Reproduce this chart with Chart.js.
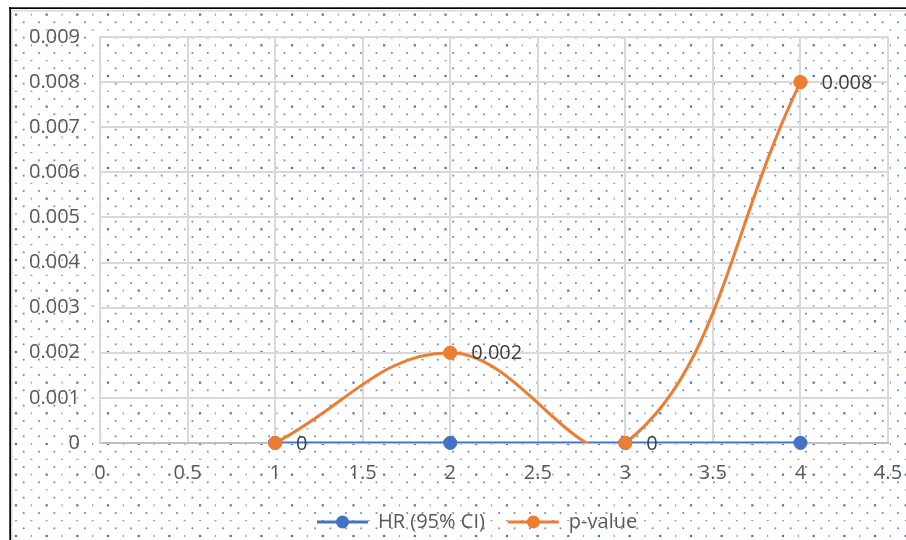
<!DOCTYPE html>
<html>
<head>
<meta charset="utf-8">
<script src="https://cdn.jsdelivr.net/npm/chart.js@4/dist/chart.umd.min.js"></script>
<style>
  html, body { margin: 0; padding: 0; background: #fff; }
  canvas { display: block; }
</style>
</head>
<body>
<canvas id="c" width="906" height="540"></canvas>
<script>
// Series data
const xValues = [1, 2, 3, 4];
const hrValues = [0, 0, 0, 0];
const pValues = [0, 0.002, 0, 0.008];
const seriesNames = ['HR (95% CI)', 'p-value'];
const seriesColors = ['#4472C4', '#ED7D31'];

const toPoints = vals => xValues.map((x, i) => ({ x, y: vals[i] }));

Chart.defaults.font.family = "'Open Sans', 'DejaVu Sans', sans-serif";

// Dotted fill behind the whole chart plus the outer frame
const dotBackground = {
  id: 'dotBackground',
  beforeDraw(chart) {
    const ctx = chart.ctx;
    const W = chart.width, H = chart.height;
    ctx.save();
    ctx.fillStyle = '#fff';
    ctx.fillRect(0, 0, W, H);
    const rowGap = 7.667, colGap = 15.34;
    for (let k = 0; ; k++) {
      const y = 6.97 + rowGap * k;
      if (y > H) break;
      if (y < 10) continue;
      const x0 = k % 2 ? 16 : 23.67;
      for (let m = 0; ; m++) {
        const x = x0 + colGap * m;
        if (x > W) break;
        if (x < 12) continue;
        let w, h, a;
        if (k % 4 === 1) {
          if (m % 2 === 0) { w = 2.2; h = 2.2; a = 1; } else { w = 1.2; h = 2; a = 0.7; }
        } else if (k % 4 === 3) { w = 2; h = 1.2; a = 0.7; }
        else { w = 1.8; h = 1.8; a = 0.8; }
        ctx.fillStyle = 'rgba(68,114,196,' + a + ')';
        ctx.fillRect(x - w / 2, y - h / 2, w, h);
      }
    }
    ctx.fillStyle = '#d9d9d9';
    ctx.fillRect(11, 10, W - 11, 1.5);
    ctx.fillRect(11, 10, 1.5, H - 10);
    ctx.fillStyle = '#000';
    ctx.fillRect(9, 7.3, W - 9, 1.7);
    ctx.fillRect(9.3, 7.3, 1.7, H - 7.3);
    ctx.restore();
  }
};

// Markers redrawn unclipped (the lines stay clipped to the plot area),
// then value labels to the right of each p-value point
const markersAndLabels = {
  id: 'markersAndLabels',
  afterDatasetsDraw(chart) {
    const ctx = chart.ctx;
    [0, 1].forEach(di => {
      chart.getDatasetMeta(di).data.forEach(el => el.draw(ctx));
    });
    const meta = chart.getDatasetMeta(1);
    ctx.save();
    ctx.font = "20px 'Open Sans'";
    ctx.fillStyle = '#404040';
    ctx.textAlign = 'left';
    ctx.textBaseline = 'middle';
    meta.data.forEach((pt, i) => {
      ctx.fillText(String(pValues[i]), pt.x + 21, pt.y + 1);
    });
    ctx.restore();
  }
};

// Legend: line-with-marker symbols, legend row starts at a fixed x
const legendMarkers = {
  id: 'legendMarkers',
  afterLayout(chart) {
    const lg = chart.legend;
    const pad = lg.options.labels.padding;
    const w = lg.right - lg.left;
    lg.left = 317 - pad;
    lg.right = lg.left + w;
  },
  afterDraw(chart) {
    const lg = chart.legend;
    const ctx = chart.ctx;
    const bw = lg.options.labels.boxWidth;
    ctx.save();
    lg.legendHitBoxes.forEach((hb, i) => {
      const item = lg.legendItems[i];
      ctx.fillStyle = seriesColors[item.datasetIndex];
      ctx.beginPath();
      ctx.arc(hb.left + bw / 2, hb.top + hb.height / 2, 6.5, 0, Math.PI * 2);
      ctx.fill();
    });
    ctx.restore();
  }
};

const makeDataset = (idx, vals, order) => ({
  label: seriesNames[idx],
  data: toPoints(vals),
  showLine: true,
  borderColor: seriesColors[idx],
  backgroundColor: seriesColors[idx],
  pointBackgroundColor: seriesColors[idx],
  pointBorderColor: seriesColors[idx],
  borderWidth: 3,
  pointRadius: 6.5,
  pointBorderWidth: 1,
  tension: 0.4,
  clip: { left: 10, top: 10, right: 10, bottom: 0 },
  order: order
});

new Chart(document.getElementById('c'), {
  type: 'scatter',
  data: {
    datasets: [
      makeDataset(0, hrValues, 1),
      makeDataset(1, pValues, 0)
    ]
  },
  options: {
    responsive: false,
    animation: false,
    devicePixelRatio: 1,
    layout: { padding: { left: 0, top: 37, right: 18, bottom: -2 } },
    elements: { line: { capBezierPoints: false } },
    plugins: {
      tooltip: { enabled: false },
      legend: {
        position: 'bottom',
        align: 'start',
        labels: {
          boxWidth: 51,
          boxHeight: 3,
          padding: 23,
          color: '#595959',
          font: { size: 20 },
          sort: (a, b) => a.datasetIndex - b.datasetIndex,
          generateLabels(chart) {
            const items = Chart.defaults.plugins.legend.labels.generateLabels(chart);
            return items.map(it => Object.assign({}, it, {
              fillStyle: seriesColors[it.datasetIndex],
              strokeStyle: seriesColors[it.datasetIndex],
              lineWidth: 0
            }));
          }
        }
      }
    },
    scales: {
      x: {
        type: 'linear',
        min: 0,
        max: 4.5,
        afterFit(scale) {
          scale.height = 46;
          scale.paddingLeft = 0;
          scale.paddingRight = 0;
        },
        ticks: {
          stepSize: 0.5,
          padding: 18,
          color: '#595959',
          font: { size: 20 },
          callback: v => String(Number(v.toFixed(1)))
        },
        grid: { color: '#d9d9d9', lineWidth: 2, drawTicks: false },
        border: { display: true, color: '#bfbfbf', width: 2 }
      },
      y: {
        type: 'linear',
        min: 0,
        max: 0.009,
        afterFit(scale) {
          scale.width = 100;
          scale.paddingTop = 0;
          scale.paddingBottom = 0;
        },
        ticks: {
          stepSize: 0.001,
          padding: 20,
          color: '#595959',
          font: { size: 20 },
          callback: v => String(Number(v.toFixed(3)))
        },
        grid: { color: '#d9d9d9', lineWidth: 2, drawTicks: false },
        border: { display: true, color: '#d9d9d9', width: 2 }
      }
    }
  },
  plugins: [dotBackground, markersAndLabels, legendMarkers]
});
</script>
</body>
</html>
